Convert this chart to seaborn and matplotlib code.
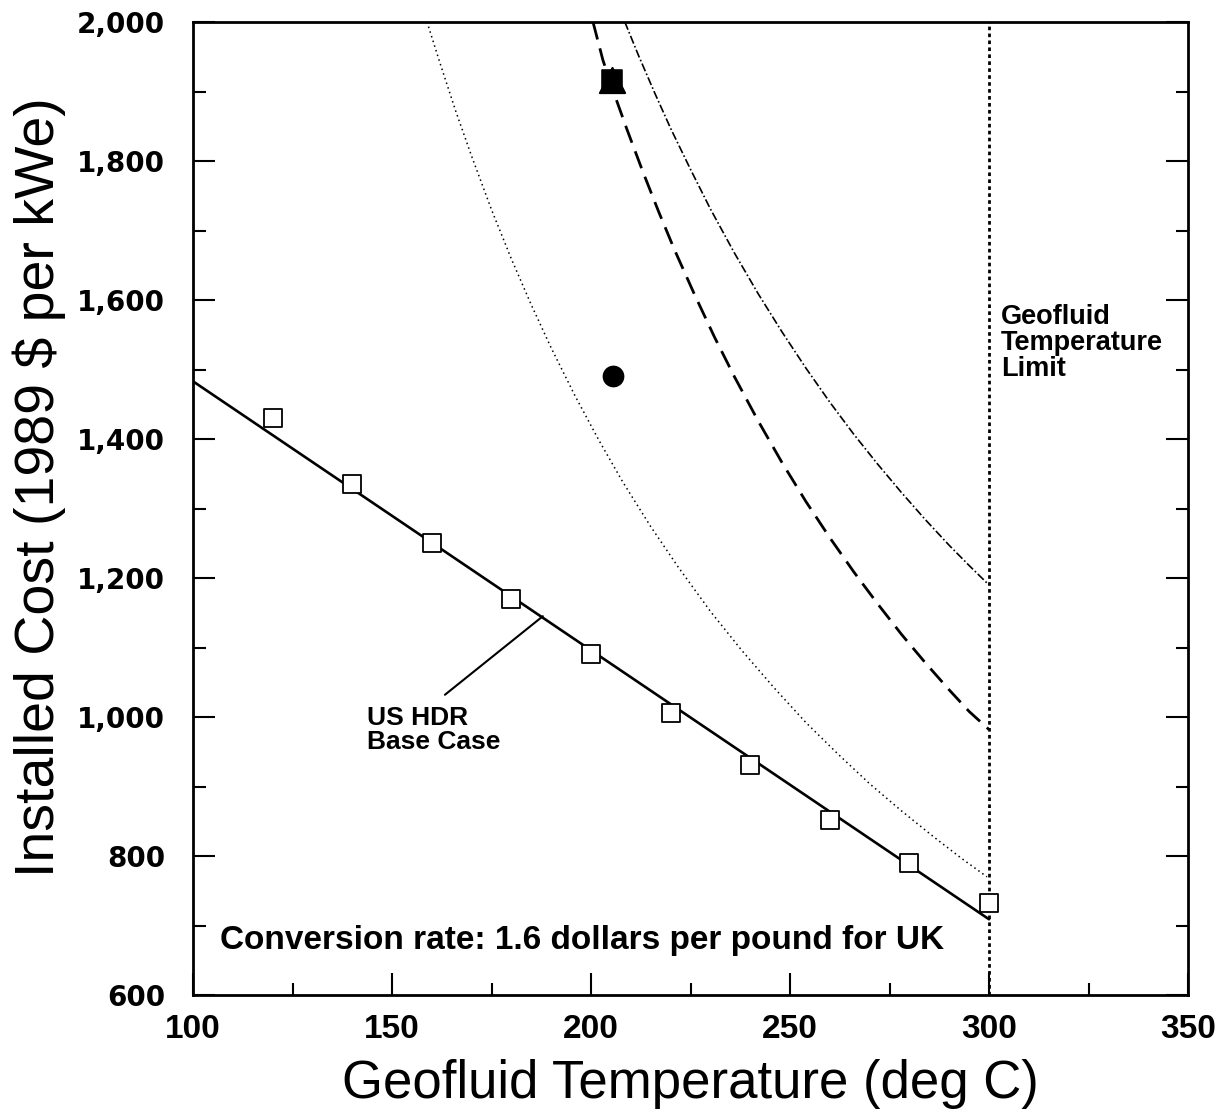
import numpy as np
import pandas as pd
import matplotlib
matplotlib.use("Agg")
import matplotlib.pyplot as plt
import seaborn as sns
from matplotlib.ticker import MultipleLocator, FuncFormatter

# ---------------- data ----------------
base_temp = [120, 140, 160, 180, 200, 220, 240, 260, 280, 300]
base_cost = [1430, 1335, 1250, 1170, 1091, 1006, 931, 852, 790, 732]

fit_temp = [100, 300]
fit_cost = [1483, 709]

dotted_temp = [158.8, 162, 166, 170, 175, 180, 185, 190, 196, 202, 208, 215, 222,
               230, 238, 246, 254, 262, 270, 278, 286, 293, 299.5]
dotted_cost = [2000, 1942, 1872, 1807, 1730, 1659, 1593, 1531, 1462, 1398, 1338, 1274,
               1215, 1152, 1095, 1042, 992, 947, 904, 865, 828, 797, 770]

dashed_temp = [200.5, 203, 206, 209, 213, 217, 221, 226, 231, 236, 242, 248, 254,
               260, 266, 272, 278, 284, 290, 295, 300]
dashed_cost = [2000, 1945, 1894, 1846, 1785, 1727, 1672, 1608, 1547, 1490, 1426, 1366,
               1310, 1258, 1209, 1163, 1119, 1078, 1039, 1008, 982]

dashdot_temp = [208.5, 212, 216, 220, 225, 230, 236, 242, 248, 254, 260, 266, 272,
                278, 284, 290, 295, 300]
dashdot_cost = [2000, 1951, 1898, 1847, 1788, 1731, 1668, 1609, 1554, 1502, 1453,
                1407, 1364, 1323, 1284, 1247, 1218, 1190]

uk_square_temp, uk_square_cost = [205.3], [1917]
uk_circle_temp, uk_circle_cost = [205.5], [1491]

limit_temp = 300

x_ticks = [100, 150, 200, 250, 300, 350]
y_ticks = [600, 800, 1000, 1200, 1400, 1600, 1800, 2000]

# ---------------- styling ----------------
sns.set_theme(style="ticks")
plt.rcParams["font.family"] = ["Liberation Sans", "DejaVu Sans"]
plt.rcParams["text.color"] = "black"
plt.rcParams["axes.labelcolor"] = "black"
plt.rcParams["xtick.color"] = "black"
plt.rcParams["ytick.color"] = "black"

fig = plt.figure(figsize=(12.31, 11.2), dpi=100)
ax = fig.add_axes([193 / 1231, 1 - 995 / 1120, 995 / 1231, 973 / 1120])

# curves
sns.lineplot(x=fit_temp, y=fit_cost, ax=ax, color="black", lw=1.9,
             estimator=None, sort=False)
sns.lineplot(x=dotted_temp, y=dotted_cost, ax=ax, color="black", lw=1.1,
             linestyle=(0, (1, 2.2)), estimator=None, sort=False)
sns.lineplot(x=dashed_temp, y=dashed_cost, ax=ax, color="black", lw=2.0,
             linestyle=(0, (6.5, 3.3)), estimator=None, sort=False)
sns.lineplot(x=dashdot_temp, y=dashdot_cost, ax=ax, color="black", lw=1.2,
             linestyle=(0, (5, 1.5, 1, 1.5)), estimator=None, sort=False)
ax.axvline(limit_temp, color="black", lw=2.0, linestyle=(0, (1.3, 1.2)))

# markers
sns.scatterplot(x=base_temp, y=base_cost, ax=ax, marker="s", s=150,
                facecolor="white", edgecolor="black", linewidth=1.3, zorder=5)
sns.scatterplot(x=uk_square_temp, y=uk_square_cost, ax=ax, marker="^", s=330,
                color="black", edgecolor="black", zorder=6)
sns.scatterplot(x=uk_square_temp, y=uk_square_cost, ax=ax, marker="s", s=210,
                color="black", edgecolor="black", zorder=6)
sns.scatterplot(x=uk_circle_temp, y=uk_circle_cost, ax=ax, marker="o", s=210,
                color="black", edgecolor="black", zorder=6)

# axes
ax.set_xlim(100, 350)
ax.set_ylim(600, 2000)
ax.set_xticks(x_ticks)
ax.set_yticks(y_ticks)
ax.xaxis.set_minor_locator(MultipleLocator(25))
ax.yaxis.set_minor_locator(MultipleLocator(100))
ax.yaxis.set_major_formatter(FuncFormatter(lambda v, p: f"{v:,.0f}"))

for s in ax.spines.values():
    s.set_linewidth(2.0)
    s.set_color("black")

ax.tick_params(axis="both", which="major", direction="in", length=16, width=1.5,
               color="black")
ax.tick_params(axis="both", which="minor", direction="in", length=9, width=1.5,
               color="black")
ax.tick_params(axis="y", which="both", right=True, left=True)
ax.tick_params(axis="x", which="both", top=False, bottom=True)
ax.tick_params(axis="y", which="major", pad=20)
ax.tick_params(axis="x", which="major", pad=14)

for lab in ax.get_yticklabels():
    lab.set_fontfamily(["DejaVu Sans"])
    lab.set_fontweight("bold")
    lab.set_fontsize(20)
for lab in ax.get_xticklabels():
    lab.set_fontweight("bold")
    lab.set_fontsize(24)

ax.set_xlabel("Geofluid Temperature (deg C)", fontsize=38, labelpad=10)
ax.set_ylabel("Installed Cost (1989 $ per kWe)", fontsize=40)
ax.yaxis.set_label_coords(-0.128, 0.522)

# annotations
ax.annotate("", xy=(187.9, 1145), xytext=(163.3, 1032),
            arrowprops=dict(arrowstyle="-", lw=1.5, color="black",
                            shrinkA=0, shrinkB=0))
ax.text(143.7, 982, "US HDR\nBase Case", fontsize=19, fontweight="bold",
        ha="left", va="center", linespacing=1.0)
ax.text(303, 1538, "Geofluid\nTemperature\nLimit", fontsize=19.5, fontweight="bold",
        ha="left", va="center", linespacing=1.02)
ax.text(106.8, 679, "Conversion rate: 1.6 dollars per pound for UK", fontsize=24,
        fontweight="bold", ha="left", va="center")

fig.savefig("out.png", dpi=100, facecolor="white")
